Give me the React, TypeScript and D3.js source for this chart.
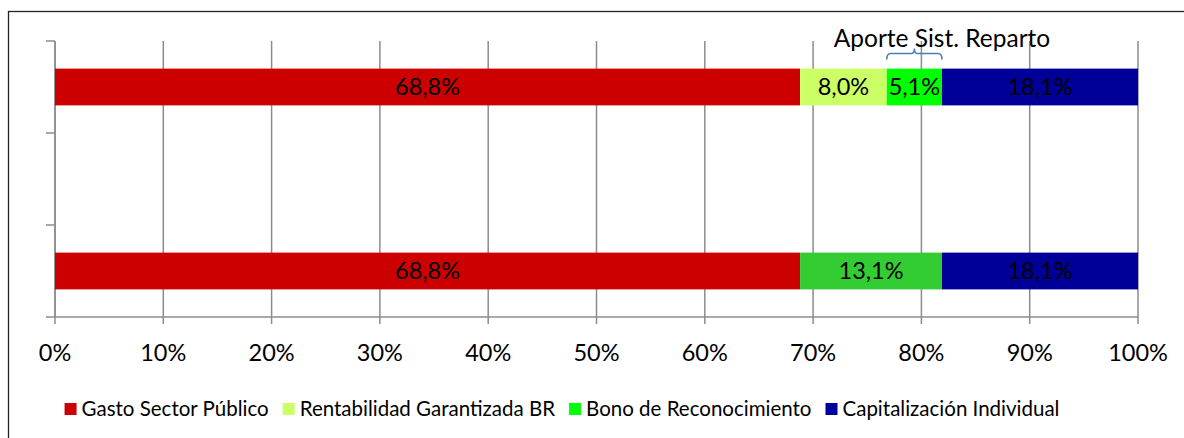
import React, { useEffect, useRef } from "react";
import * as d3 from "d3";

// categories top to bottom (middle one is an empty gap in the original)
const categories = ["Desglose", "Vacío", "Agregado"];
const seriesNames = [
  "Gasto Sector Público",
  "Rentabilidad Garantizada BR",
  "Bono de Reconocimiento",
  "Aporte Sist. Reparto",
  "Capitalización Individual",
];
const gastoSectorPublico = [68.8, 0, 68.8];
const rentabilidadBR = [8.0, 0, 0];
const bonoReconocimiento = [5.1, 0, 0];
const aporteReparto = [0, 0, 13.1];
const capitalizacion = [18.1, 0, 18.1];
const colors = ["#CC0000", "#CCFF66", "#00FF00", "#33CC33", "#000099"];
const legendNames = [
  "Gasto Sector Público",
  "Rentabilidad Garantizada BR",
  "Bono de Reconocimiento",
  "Capitalización Individual",
];
const xTicks = [0, 10, 20, 30, 40, 50, 60, 70, 80, 90, 100];
const braceLabel = "Aporte Sist. Reparto";

const W = 1184;
const H = 438;
const FONT = "Lato, 'DejaVu Sans', sans-serif";

export default function App() {
  const svgRef = useRef<SVGSVGElement>(null);

  useEffect(() => {
    const svg = d3.select(svgRef.current);
    svg.selectAll("*").remove();

    const left = 55, right = 1138, top = 41, bottom = 317;

    const rows = categories.map((c, i) => ({
      cat: c,
      [seriesNames[0]]: gastoSectorPublico[i],
      [seriesNames[1]]: rentabilidadBR[i],
      [seriesNames[2]]: bonoReconocimiento[i],
      [seriesNames[3]]: aporteReparto[i],
      [seriesNames[4]]: capitalizacion[i],
    }));

    const x = d3.scaleLinear().domain([0, 100]).range([left, right]);
    const y = d3.scaleBand().domain(categories).range([top, bottom]).paddingInner(0.6).paddingOuter(0.3);
    const yOuter = d3.scaleBand().domain(categories).range([top, bottom]);

    // outer frame
    svg.append("rect")
      .attr("x", 8.5).attr("y", 11.5)
      .attr("width", W + 20).attr("height", H + 20)
      .attr("fill", "white").attr("stroke", "#222").attr("stroke-width", 1.3);

    // vertical gridlines
    svg.append("g").selectAll("line").data(xTicks).join("line")
      .attr("x1", (d) => x(d)).attr("x2", (d) => x(d))
      .attr("y1", top).attr("y2", bottom + 7)
      .attr("stroke", "#8c8c8c").attr("stroke-width", 1.5);

    // x axis line
    svg.append("line")
      .attr("x1", left - 9).attr("x2", right).attr("y1", bottom).attr("y2", bottom)
      .attr("stroke", "#8c8c8c").attr("stroke-width", 1.5);

    // y axis line and ticks
    svg.append("line")
      .attr("x1", left).attr("x2", left).attr("y1", top).attr("y2", bottom)
      .attr("stroke", "#8c8c8c").attr("stroke-width", 1.5);
    const yTickPos = categories.map((c) => yOuter(c) as number);
    svg.append("g").selectAll("line").data(yTickPos).join("line")
      .attr("x1", left - 9).attr("x2", left).attr("y1", (d) => d).attr("y2", (d) => d)
      .attr("stroke", "#8c8c8c").attr("stroke-width", 1.5);

    // x tick labels
    svg.append("g").selectAll("text").data(xTicks).join("text")
      .attr("x", (d) => x(d)).attr("y", 361)
      .attr("text-anchor", "middle")
      .attr("font-family", FONT).attr("font-size", 23.5).attr("fill", "#000")
      .text((d) => `${d}%`);

    // stacked bars
    const stack = d3.stack<any>().keys(seriesNames);
    const layers = stack(rows as any);
    layers.forEach((layer, li) => {
      const g = svg.append("g");
      layer.forEach((seg) => {
        const v = seg[1] - seg[0];
        if (v <= 0) return;
        const cat = (seg.data as any).cat;
        const y0 = y(cat) as number;
        g.append("rect")
          .attr("x", x(seg[0])).attr("y", y0)
          .attr("width", x(seg[1]) - x(seg[0])).attr("height", y.bandwidth())
          .attr("fill", colors[li]);
        g.append("text")
          .attr("x", (x(seg[0]) + x(seg[1])) / 2)
          .attr("y", y0 + y.bandwidth() / 2 + 8)
          .attr("text-anchor", "middle")
          .attr("font-family", FONT).attr("font-size", 23.5).attr("fill", "#000")
          .text(v.toFixed(1).replace(".", ",") + "%");
      });
    });

    // brace over the reparto components of the first bar
    const b0 = x(gastoSectorPublico[0] + rentabilidadBR[0]);
    const b1 = x(gastoSectorPublico[0] + rentabilidadBR[0] + bonoReconocimiento[0]);
    const by = (y(categories[0]) as number) - 15;
    const bm = (b0 + b1) / 2;
    const p = d3.path();
    p.moveTo(b0, by + 6);
    p.quadraticCurveTo(b0, by, b0 + 4, by);
    p.lineTo(bm - 3, by);
    p.quadraticCurveTo(bm, by, bm, by - 5);
    p.quadraticCurveTo(bm, by, bm + 3, by);
    p.lineTo(b1 - 4, by);
    p.quadraticCurveTo(b1, by, b1, by + 6);
    svg.append("path").attr("d", p.toString())
      .attr("fill", "none").attr("stroke", "#4A7EBB").attr("stroke-width", 1.5);

    svg.append("text")
      .attr("x", 942).attr("y", 47)
      .attr("text-anchor", "middle")
      .attr("font-family", FONT).attr("font-size", 24.5).attr("fill", "#000")
      .text(braceLabel);

    // legend
    const legend = svg.append("g");
    const items = legendNames.map((name) => {
      const gi = legend.append("g");
      gi.append("rect").attr("width", 12).attr("height", 12)
        .attr("fill", colors[seriesNames.indexOf(name)]);
      const t = gi.append("text").attr("x", 17).attr("y", 13)
        .attr("font-family", FONT).attr("font-size", 20.5).attr("fill", "#000")
        .text(name);
      const w = 17 + (t.node() as SVGTextElement).getComputedTextLength();
      return { gi, w };
    });
    const gap = 14;
    const total = d3.sum(items, (d) => d.w) + gap * (items.length - 1);
    let cx = 562 - total / 2;
    items.forEach((it) => {
      it.gi.attr("transform", `translate(${cx},403)`);
      cx += it.w + gap;
    });
  }, []);

  return (
    <svg
      ref={svgRef}
      width={W}
      height={H}
      style={{ position: "absolute", left: 0, top: 0, background: "white" }}
    />
  );
}
